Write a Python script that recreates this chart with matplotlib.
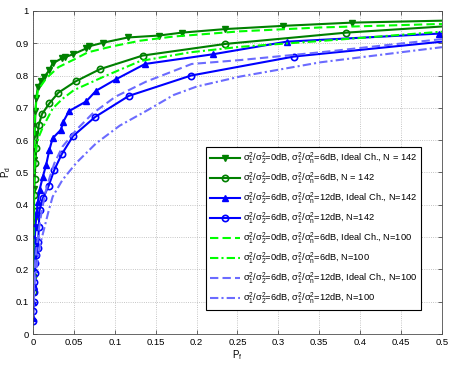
import matplotlib
matplotlib.use("Agg")
import matplotlib.pyplot as plt

plt.rcParams['font.family'] = ['Liberation Sans', 'DejaVu Sans']
plt.rcParams['mathtext.fontset'] = 'custom'
plt.rcParams['mathtext.rm'] = 'Liberation Sans'
plt.rcParams['mathtext.it'] = 'Liberation Sans'
plt.rcParams['mathtext.default'] = 'regular'

# N = 142, 0dB / 6dB, ideal channel
pf_1 = [0, 0.0003, 0.0006, 0.001, 0.0015, 0.002, 0.003, 0.004, 0.006, 0.010,
        0.014, 0.020, 0.024, 0.035, 0.039, 0.049, 0.065, 0.069, 0.086, 0.116,
        0.154, 0.182, 0.235, 0.306, 0.390, 0.5]
pd_1 = [0.14, 0.25, 0.35, 0.45, 0.54, 0.62, 0.69, 0.73, 0.766, 0.782,
        0.797, 0.817, 0.838, 0.853, 0.857, 0.866, 0.884, 0.891, 0.902, 0.918,
        0.924, 0.933, 0.944, 0.954, 0.964, 0.970]

# N = 142, 0dB / 6dB
pf_2 = [0, 0.0002, 0.0004, 0.0006, 0.0008, 0.001, 0.0015, 0.002, 0.003, 0.004,
        0.007, 0.011, 0.020, 0.031, 0.052, 0.082, 0.134, 0.235, 0.383, 0.5]
pd_2 = [0.13, 0.18, 0.23, 0.28, 0.33, 0.38, 0.43, 0.48, 0.53, 0.575,
        0.647, 0.681, 0.714, 0.747, 0.782, 0.820, 0.862, 0.898, 0.933, 0.952]

# N = 142, 6dB / 12dB, ideal channel
pf_3 = [0, 0.0003, 0.0006, 0.001, 0.0015, 0.002, 0.003, 0.004, 0.006, 0.008,
        0.012, 0.016, 0.020, 0.024, 0.034, 0.037, 0.044, 0.065, 0.077,
        0.101, 0.137, 0.220, 0.310, 0.496, 0.5]
pd_3 = [0.05, 0.10, 0.15, 0.20, 0.25, 0.29, 0.33, 0.37, 0.41, 0.446,
        0.487, 0.523, 0.570, 0.606, 0.632, 0.657, 0.690, 0.720, 0.753,
        0.788, 0.836, 0.866, 0.905, 0.930, 0.930]

# N = 142, 6dB / 12dB
pf_4 = [0, 0.0003, 0.0006, 0.001, 0.0015, 0.002, 0.003, 0.004, 0.0055, 0.0065,
        0.007, 0.008, 0.012, 0.019, 0.026, 0.035, 0.049, 0.076, 0.117, 0.193,
        0.319, 0.5]
pd_4 = [0.04, 0.07, 0.10, 0.13, 0.16, 0.19, 0.22, 0.245, 0.265, 0.286,
        0.33, 0.384, 0.420, 0.458, 0.508, 0.556, 0.613, 0.672, 0.737, 0.800,
        0.859, 0.905]

# N = 100 curves (no markers)
pf_5 = [0, 0.0005, 0.001, 0.002, 0.004, 0.006, 0.016, 0.031, 0.051, 0.067,
        0.096, 0.131, 0.172, 0.253, 0.351, 0.5]
pd_5 = [0.15, 0.38, 0.55, 0.66, 0.72, 0.755, 0.791, 0.826, 0.851, 0.872,
        0.890, 0.908, 0.921, 0.937, 0.949, 0.960]

pf_6 = [0, 0.0005, 0.001, 0.002, 0.004, 0.007, 0.012, 0.024, 0.036, 0.050,
        0.085, 0.131, 0.192, 0.253, 0.351, 0.5]
pd_6 = [0.15, 0.33, 0.45, 0.53, 0.58, 0.61, 0.64, 0.698, 0.728, 0.755,
        0.795, 0.845, 0.872, 0.889, 0.907, 0.936]

pf_7 = [0, 0.001, 0.002, 0.004, 0.007, 0.010, 0.014, 0.018, 0.026, 0.036,
        0.053, 0.073, 0.101, 0.138, 0.194, 0.253, 0.351, 0.5]
pd_7 = [0.05, 0.14, 0.20, 0.26, 0.32, 0.37, 0.425, 0.466, 0.528, 0.580,
        0.632, 0.683, 0.735, 0.781, 0.836, 0.848, 0.872, 0.913]

pf_8 = [0, 0.001, 0.002, 0.005, 0.009, 0.014, 0.019, 0.024, 0.036, 0.053,
        0.077, 0.106, 0.138, 0.172, 0.200, 0.253, 0.351, 0.5]
pd_8 = [0.05, 0.11, 0.16, 0.22, 0.28, 0.33, 0.38, 0.425, 0.477, 0.530,
        0.590, 0.645, 0.690, 0.740, 0.766, 0.797, 0.841, 0.888]

labels = [
    r'$\sigma_1^2/\sigma_2^2$=0dB, $\sigma_1^2/\sigma_n^2$=6dB, Ideal Ch., N = 142',
    r'$\sigma_1^2/\sigma_2^2$=0dB, $\sigma_1^2/\sigma_n^2$=6dB, N = 142',
    r'$\sigma_1^2/\sigma_2^2$=6dB, $\sigma_1^2/\sigma_n^2$=12dB, Ideal Ch., N=142',
    r'$\sigma_1^2/\sigma_2^2$=6dB, $\sigma_1^2/\sigma_n^2$=12dB, N=142',
    r'$\sigma_1^2/\sigma_2^2$=0dB, $\sigma_1^2/\sigma_n^2$=6dB, Ideal Ch., N=100',
    r'$\sigma_1^2/\sigma_2^2$=0dB, $\sigma_1^2/\sigma_n^2$=6dB, N=100',
    r'$\sigma_1^2/\sigma_2^2$=6dB, $\sigma_1^2/\sigma_n^2$=12dB, Ideal Ch., N=100',
    r'$\sigma_1^2/\sigma_2^2$=6dB, $\sigma_1^2/\sigma_n^2$=12dB, N=100',
]

dgreen = (0, 0.5, 0)
blue = (0, 0, 1)
lgreen = (0, 1, 0)
lblue = (0.42, 0.42, 1)

fig = plt.figure(figsize=(4.63, 3.65), dpi=100)
ax = fig.add_axes([0.0713, 0.0849, 0.8833, 0.885])

lw = 1.5
ax.plot(pf_1, pd_1, '-', color=dgreen, lw=lw, marker='v', ms=5,
        mfc=dgreen, markevery=slice(0, -1), label=labels[0])
ax.plot(pf_2, pd_2, '-', color=dgreen, lw=lw, marker='o', ms=4.5,
        mfc='none', mew=1.2, markevery=slice(0, -1), label=labels[1])
ax.plot(pf_3, pd_3, '-', color=blue, lw=lw, marker='^', ms=5,
        mfc=blue, markevery=slice(0, -1), label=labels[2])
ax.plot(pf_4, pd_4, '-', color=blue, lw=lw, marker='o', ms=4.5,
        mfc='none', mew=1.2, markevery=slice(0, -1), label=labels[3])
ax.plot(pf_5, pd_5, '--', color=lgreen, lw=lw, dashes=(4, 2), label=labels[4])
ax.plot(pf_6, pd_6, '-.', color=lgreen, lw=lw, dashes=(4, 1.5, 1, 1.5), label=labels[5])
ax.plot(pf_7, pd_7, '--', color=lblue, lw=lw, dashes=(4, 2), label=labels[6])
ax.plot(pf_8, pd_8, '-.', color=lblue, lw=lw, dashes=(4, 1.5, 1, 1.5), label=labels[7])

ax.set_xlim(0, 0.5)
ax.set_ylim(0, 1)
ax.set_xticks([0, 0.05, 0.1, 0.15, 0.2, 0.25, 0.3, 0.35, 0.4, 0.45, 0.5])
ax.set_xticklabels(['0', '0.05', '0.1', '0.15', '0.2', '0.25', '0.3', '0.35', '0.4', '0.45', '0.5'])
ax.set_yticks([0, 0.1, 0.2, 0.3, 0.4, 0.5, 0.6, 0.7, 0.8, 0.9, 1])
ax.set_yticklabels(['0', '0.1', '0.2', '0.3', '0.4', '0.5', '0.6', '0.7', '0.8', '0.9', '1'])
ax.tick_params(direction='in', top=True, right=True, labelsize=6.8,
               length=3, width=0.6, color='0.3', pad=3)
ax.grid(True, linestyle=':', color='0.7', linewidth=0.6)
for s in ax.spines.values():
    s.set_color('0.3')
    s.set_linewidth(0.6)

ax.set_xlabel('P$_f$', fontsize=7, labelpad=1)
ax.set_ylabel('P$_d$', fontsize=7, labelpad=2)

leg = ax.legend(loc='lower right', bbox_to_anchor=(0.9487, 0.0743),
                borderaxespad=0, fontsize=6.7, handlelength=3.3,
                handletextpad=0.3, labelspacing=0.45, borderpad=0.4,
                fancybox=False, framealpha=1, edgecolor='black')
leg.get_frame().set_linewidth(0.8)

fig.savefig('out.png', dpi=100)
